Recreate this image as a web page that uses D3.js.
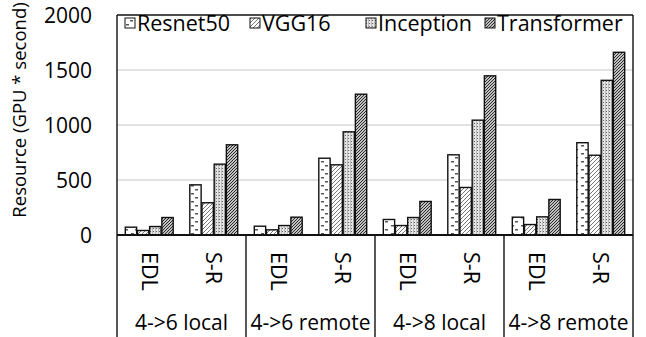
<!DOCTYPE html>
<html>
<head>
<meta charset="utf-8">
<script src="https://cdn.jsdelivr.net/npm/d3@7"></script>
<style>
  body { margin: 0; background: #fff; }
  text { font-family: "Open Sans", "Noto Sans", sans-serif; fill: #000; }
</style>
</head>
<body>
<div id="chart"></div>
<script>
// data
var groups = ["4->6 local", "4->6 remote", "4->8 local", "4->8 remote"];
var methods = ["EDL", "S-R"];
var series = ["Resnet50", "VGG16", "Inception", "Transformer"];
var resnet50 = [71, 456, 80, 698, 141, 729, 162, 839];
var vgg16 = [41, 293, 47, 638, 86, 432, 95, 725];
var inception = [77, 644, 86, 938, 159, 1044, 165, 1406];
var transformer = [159, 820, 162, 1280, 305, 1447, 323, 1661];
var yTicks = [0, 500, 1000, 1500, 2000];

var values = [resnet50, vgg16, inception, transformer];

// sizes
var width = 646;
var height = 337;
var plotLeft = 117, plotRight = 633, plotTop = 15, zeroY = 235;

var svg = d3.select("#chart").append("svg")
  .attr("width", width)
  .attr("height", height);

// patterns
var defs = svg.append("defs");

var p1 = defs.append("pattern").attr("id", "pat0")
  .attr("patternUnits", "userSpaceOnUse").attr("width", 10).attr("height", 8);
p1.append("rect").attr("width", 10).attr("height", 8).attr("fill", "#fff");
p1.append("rect").attr("x", 1).attr("y", 1).attr("width", 3).attr("height", 1.5).attr("fill", "#555");
p1.append("rect").attr("x", 5).attr("y", 5).attr("width", 3).attr("height", 1.5).attr("fill", "#555");

var p2 = defs.append("pattern").attr("id", "pat1")
  .attr("patternUnits", "userSpaceOnUse").attr("width", 4).attr("height", 4);
p2.append("rect").attr("width", 4).attr("height", 4).attr("fill", "#fff");
p2.append("path").attr("d", "M-1,1 L1,-1 M0,4 L4,0 M3,5 L5,3")
  .attr("stroke", "#777").attr("stroke-width", 1);

var p3 = defs.append("pattern").attr("id", "pat2")
  .attr("patternUnits", "userSpaceOnUse").attr("width", 3).attr("height", 3);
p3.append("rect").attr("width", 3).attr("height", 3).attr("fill", "#e6e6e6");
p3.append("rect").attr("width", 1).attr("height", 1).attr("fill", "#666");
p3.append("rect").attr("x", 2).attr("y", 0).attr("width", 1).attr("height", 3).attr("fill", "#bbb");

var p4 = defs.append("pattern").attr("id", "pat3")
  .attr("patternUnits", "userSpaceOnUse").attr("width", 3).attr("height", 3);
p4.append("rect").attr("width", 3).attr("height", 3).attr("fill", "#fff");
p4.append("path").attr("d", "M-1,1 L1,-1 M0,3 L3,0 M2,4 L4,2")
  .attr("stroke", "#222").attr("stroke-width", 1.1);

// scales
var x0 = d3.scaleBand().domain(groups).range([plotLeft, plotRight]);
var x1 = d3.scaleBand().domain(methods).range([0, x0.bandwidth()]);
var x2 = d3.scaleBand().domain(series)
  .range([8.3, x1.bandwidth() - 8.3]).paddingInner(0.07);
var y = d3.scaleLinear().domain([0, 2000]).range([zeroY, plotTop]);

// gridlines
svg.append("g").selectAll("line")
  .data(yTicks.filter(function(d) { return d > 0 && d < 2000; }))
  .enter().append("line")
  .attr("x1", plotLeft).attr("x2", plotRight)
  .attr("y1", function(d) { return y(d); })
  .attr("y2", function(d) { return y(d); })
  .attr("stroke", "#d9d9d9").attr("stroke-width", 1.3);

// y axis labels
var yAxis = d3.axisLeft(y).tickValues(yTicks).tickSize(0).tickPadding(0)
  .tickFormat(d3.format("d"));
var yg = svg.append("g").attr("transform", "translate(92,0)").call(yAxis);
yg.select(".domain").remove();
yg.selectAll("text")
  .attr("font-size", 21)
  .attr("font-family", "'Open Sans', sans-serif")
  .attr("dy", "0.35em");

svg.append("text")
  .attr("transform", "translate(26," + 110 + ")rotate(-90)")
  .attr("text-anchor", "middle")
  .attr("font-size", 18.5)
  .text("Resource (GPU * second)");

// bars
var cells = [];
groups.forEach(function(g, gi) {
  methods.forEach(function(m, mi) {
    series.forEach(function(s, si) {
      cells.push({ g: g, m: m, s: s, si: si, v: values[si][gi * 2 + mi] });
    });
  });
});

svg.append("g").selectAll("rect")
  .data(cells).enter().append("rect")
  .attr("x", function(d) { return x0(d.g) + x1(d.m) + x2(d.s); })
  .attr("y", function(d) { return y(d.v); })
  .attr("width", x2.bandwidth())
  .attr("height", function(d) { return zeroY - y(d.v); })
  .attr("fill", function(d) { return "url(#pat" + d.si + ")"; })
  .attr("stroke", "#111")
  .attr("stroke-width", 1.4);

// frame
var frame = svg.append("g").attr("stroke", "#111").attr("stroke-width", 1.4).attr("fill", "none");
frame.append("line").attr("x1", plotLeft).attr("x2", plotRight).attr("y1", plotTop).attr("y2", plotTop);
frame.append("line").attr("x1", plotRight).attr("x2", plotRight).attr("y1", plotTop).attr("y2", zeroY);
frame.append("line").attr("x1", plotLeft).attr("x2", plotLeft).attr("y1", plotTop).attr("y2", height);
frame.append("line").attr("x1", plotLeft).attr("x2", plotRight).attr("y1", zeroY).attr("y2", zeroY)
  .attr("stroke-width", 1.8);
frame.selectAll("line.sep")
  .data(groups).enter().append("line").attr("class", "sep")
  .attr("x1", function(d) { return x0(d) + x0.bandwidth(); })
  .attr("x2", function(d) { return x0(d) + x0.bandwidth(); })
  .attr("y1", zeroY).attr("y2", height);

// method labels (rotated)
var ml = [];
groups.forEach(function(g) { methods.forEach(function(m) { ml.push({ g: g, m: m }); }); });
svg.append("g").selectAll("text")
  .data(ml).enter().append("text")
  .attr("transform", function(d) {
    var cx = x0(d.g) + x1(d.m) + x1.bandwidth() / 2;
    return "translate(" + cx + ",252)rotate(90)";
  })
  .attr("dy", "0.35em")
  .attr("font-size", 21.5)
  .text(function(d) { return d.m; });

// group labels
svg.append("g").selectAll("text")
  .data(groups).enter().append("text")
  .attr("x", function(d) { return x0(d) + x0.bandwidth() / 2; })
  .attr("y", 330)
  .attr("text-anchor", "middle")
  .attr("font-size", 21)
  .text(function(d) { return d; });

// legend
var legX = [125, 250, 366, 485];
var leg = svg.append("g").selectAll("g")
  .data(series).enter().append("g")
  .attr("transform", function(d, i) { return "translate(" + legX[i] + ",23)"; });
leg.append("rect")
  .attr("x", 0).attr("y", -5).attr("width", 10).attr("height", 10)
  .attr("fill", function(d, i) { return "url(#pat" + i + ")"; })
  .attr("stroke", "#111").attr("stroke-width", 1);
leg.append("text")
  .attr("x", 12).attr("dy", "0.35em")
  .attr("font-size", 21.5)
  .text(function(d) { return d; });
</script>
</body>
</html>
